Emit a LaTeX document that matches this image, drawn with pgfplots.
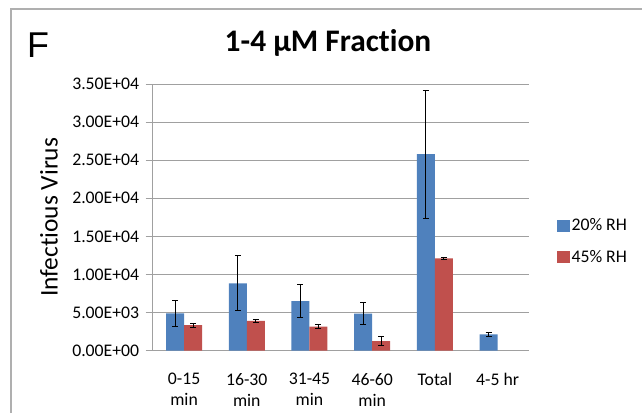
\documentclass[border=0pt]{standalone}
\usepackage{pgfplots}
\pgfplotsset{compat=1.18}
\usepackage{fontspec}
\setmainfont{Carlito}[Ligatures=NoCommon]
\newfontfamily\arialfont{Liberation Sans}
\definecolor{xlblue}{RGB}{79,129,189}
\definecolor{xlred}{RGB}{192,80,77}
\definecolor{gridgray}{RGB}{160,160,160}
\definecolor{framegray}{RGB}{175,175,175}
\begin{document}
\begin{tikzpicture}[x=1bp,y=1bp]
\useasboundingbox (0,0) rectangle (642,413);
\draw[framegray, line width=1.3bp] (11,0) -- (11,404) -- (642,404);
\node[anchor=base west, inner sep=0pt, font=\arialfont\fontsize{36}{40}\selectfont] at (27,356) {F};
\node[anchor=base, inner sep=0pt, font=\bfseries\fontsize{31.5}{34}\selectfont] at (328,361.3) {1-4 µM Fraction};
\begin{axis}[at={(152.7bp,62.3bp)}, anchor=south west, scale only axis,
  width=376.3bp, height=266.7bp,
  ybar=0pt, bar width=18bp,
  xmin=-0.5, xmax=5.5, ymin=0, ymax=35000,
  xtick={0,...,5},
  xticklabels={{0-15\\min},{16-30\\min},{31-45\\min},{46-60\\min},{Total},{4-5 hr}},
  ytick={0,5000,...,35000},
  yticklabels={0.00E+00,5.00E+03,1.00E+04,1.50E+04,2.00E+04,2.50E+04,3.00E+04,3.50E+04},
  scaled y ticks=false,
  ymajorgrids, grid style={gridgray, line width=1bp},
  axis x line*=bottom, axis y line*=left,
  axis line style={gridgray, line width=1bp, -},
  tick align=outside, major tick length=7bp,
  ytick style={gridgray, line width=1bp}, xtick style={draw=none},
  ticklabel style={font=\fontsize{17.8}{21}\selectfont},
  xticklabel style={align=center, yshift=-12bp},
  yticklabel style={xshift=-3bp},
  ylabel={Infectious Virus},
  ylabel style={font=\fontsize{25.5}{28}\selectfont, at={(axis description cs:-0.2756,0.5)}, anchor=center},
  legend style={at={(axis description cs:1.074,0.41)}, anchor=west, draw=none, fill=none,
    font=\fontsize{17.8}{20}\selectfont, row sep=14bp, inner sep=0pt},
  legend cell align=left,
]
\addplot[fill=xlblue, draw=none,
  legend image code/.code={\fill[xlblue] (0bp,-6bp) rectangle (12.5bp,6bp);},
  error bars/.cd, y dir=both, y explicit,
  error bar style={black, line width=1bp},
  error mark options={black, rotate=90, mark size=3bp, line width=1bp}]
  coordinates {(0,4900) +- (0,1700) (1,8850) +- (0,3600) (2,6520) +- (0,2200)
               (3,4860) +- (0,1450) (4,25800) +- (0,8400) (5,2150) +- (0,290)};
\addplot[fill=xlred, draw=none,
  legend image code/.code={\fill[xlred] (0bp,-6bp) rectangle (12.5bp,6bp);},
  error bars/.cd, y dir=both, y explicit,
  error bar style={black, line width=1bp},
  error mark options={black, rotate=90, mark size=3bp, line width=1bp}]
  coordinates {(0,3370) +- (0,260) (1,3900) +- (0,150) (2,3150) +- (0,300)
               (3,1270) +- (0,620) (4,12130) +- (0,100)};
\legend{20\% RH, 45\% RH}
\end{axis}
\end{tikzpicture}
\end{document}
